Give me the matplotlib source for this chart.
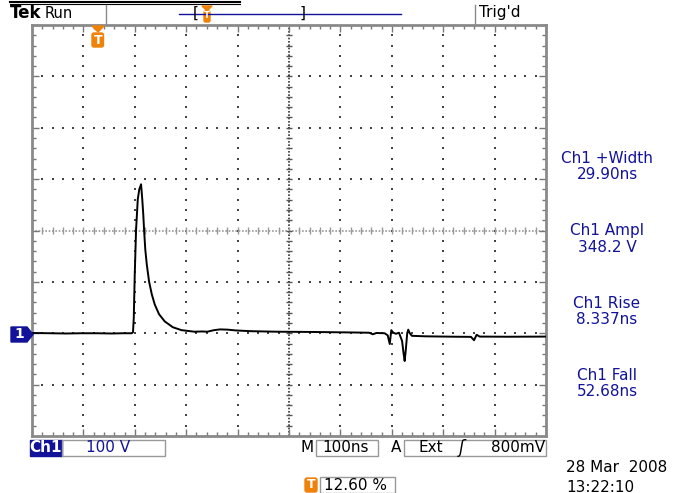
import numpy as np
import matplotlib.pyplot as plt
from matplotlib.patches import Polygon, Rectangle, FancyBboxPatch

# Ch1 trace: time after trigger (ns) and volts
t_ns = [-126, -90, -60, -30, 0, 30, 50, 68, 70.5, 72, 73.9, 76.5, 79.8, 82.7, 86.2,
        88.5, 90.5, 92, 94.4, 97.3, 101.7, 107, 112.8, 121.2, 132.3, 148, 165,
        190, 205, 215, 228, 240, 255, 270, 300, 350, 420, 500, 530, 537, 544,
        560, 566, 570, 573, 577, 582, 588, 594, 597, 599, 601, 604, 606, 609,
        613, 640, 700, 728, 734, 739, 745, 800, 874]
volts = [0.5, 0, -0.5, 0, 0, -0.5, 0, 0, 2, 30, 115, 202, 261, 280, 290,
         261, 231, 202, 163, 134, 101, 76, 56, 37, 23, 11.7, 6,
         3, 3.5, 3, 6, 7.5, 7, 5.5, 4, 3, 2.5, 1.5, 1, -2, 0.5,
         0, -4, -21, 6, 1, -1, 1, -15, -40, -54, -35, 0, 7, 0,
         -5, -6, -6.8, -7, -13.6, -3, -6.5, -6.8, -6.5]

volts_per_div = 100
ns_per_div = 100
trig_pct = 12.60
ground_div = -2.0

meas_names = ['Ch1 +Width', 'Ch1 Ampl', 'Ch1 Rise', 'Ch1 Fall']
meas_values = ['29.90ns', '348.2 V', '8.337ns', '52.68ns']
date_str = '28 Mar  2008'
time_str = '13:22:10'

W, H = 673, 493
navy = '#12129a'
orange = '#f0820a'
gray = '#8a8a8a'

fig = plt.figure(figsize=(W / 100, H / 100), dpi=100)
fig.patch.set_facecolor('white')


def fx(x):
    return x / W


def fy(y):
    return 1 - y / H


def ftext(x, y, s, **kw):
    kw.setdefault('va', 'center')
    kw.setdefault('fontsize', 10.5)
    return fig.text(fx(x), fy(y), s, **kw)


ax = fig.add_axes([fx(32), fy(436), (546 - 32) / W, (436 - 25) / H])
left = -trig_pct / 100 * 10 * ns_per_div
right = left + 10 * ns_per_div
bottom = (-4 - ground_div) * volts_per_div
top = bottom + 8 * volts_per_div
ax.set_xlim(left, right)
ax.set_ylim(bottom, top)

# graticule: dotted division lines
xc = left + 5 * ns_per_div
yc = bottom + 4 * volts_per_div
ys_fine = np.arange(bottom, top + 1, volts_per_div / 5)[1:-1]
xs_fine = np.arange(left, right + 1, ns_per_div / 5)[1:-1]
for k in range(1, 10):
    if k == 5:
        continue
    x = left + k * ns_per_div
    ax.scatter(np.full(len(ys_fine), x), ys_fine, s=0.9, marker='s', color='#444', lw=0, zorder=1)
for k in range(1, 8):
    if k == 4:
        continue
    y = bottom + k * volts_per_div
    ax.scatter(xs_fine, np.full(len(xs_fine), y), s=0.9, marker='s', color='#444', lw=0, zorder=1)

# centre cross with ticks
ax.axhline(yc, color='#999', lw=1.2, ls=(0, (1, 1)), zorder=1)
ax.axvline(xc, color='#333', lw=1.2, ls=(0, (1, 1)), zorder=1)
ax.vlines(xs_fine, yc - 6, yc + 6, color='#999', lw=1, zorder=1)
ax.hlines(ys_fine, xc - 6, xc + 6, color='#555', lw=1, zorder=1)

ax.set_xticks(np.arange(left, right + 1, ns_per_div))
ax.set_yticks(np.arange(bottom, top + 1, volts_per_div))
ax.set_xticks(xs_fine, minor=True)
ax.set_yticks(ys_fine, minor=True)
ax.tick_params(which='both', direction='in', top=True, right=True,
               labelbottom=False, labelleft=False, color='#777', width=1)
ax.tick_params(which='major', length=5)
ax.tick_params(which='minor', length=3)
for sp in ax.spines.values():
    sp.set_color(gray)
    sp.set_linewidth(2)

ax.plot(t_ns, volts, color='black', lw=1.4, zorder=3, solid_joinstyle='round')

# ---- overlay artwork in figure pixels ----
over = fig.add_axes([0, 0, 1, 1], facecolor='none')
over.set_xlim(0, W)
over.set_ylim(H, 0)
over.axis('off')

# cut-off line at very top
over.plot([10, 240], [1.5, 1.5], color='k', lw=1.5)
over.plot([10, 240], [4, 4], color='k', lw=0.8)

# top status bar
ftext(10, 13, 'Tek', fontsize=12, fontweight='bold', family='Liberation Sans Narrow')
ftext(45, 13, 'Run', fontsize=10.5)
over.plot([106, 106], [5, 24], color=gray, lw=1)
over.plot([475, 475], [5, 24], color=gray, lw=1)
ftext(479, 13, "Trig'd", fontsize=11)
over.plot([179, 401], [14, 14], color=navy, lw=1)
ftext(193, 13, '[', fontsize=11)
ftext(300, 13, ']', fontsize=11)
over.add_patch(FancyBboxPatch((204, 11), 6, 11, boxstyle='round,pad=0,rounding_size=1.5', color=orange))
over.add_patch(Polygon([[202, 6], [212, 6], [207, 11]], color=orange))
ftext(207, 16, 'T', fontsize=6, color='white', ha='center', fontweight='bold')

# trigger marker
over.add_patch(Polygon([[92, 26], [104, 26], [98, 32]], color=orange))
over.add_patch(FancyBboxPatch((92, 33), 11.5, 14, boxstyle='round,pad=0,rounding_size=2', color=orange))
ftext(97.8, 40, 'T', fontsize=9, color='white', ha='center', fontweight='bold')

# ground marker for channel 1
over.add_patch(Polygon([[11, 327], [27, 327], [33, 334.5], [27, 342], [11, 342]], color=navy))
ftext(19, 334.5, '1', fontsize=10, color='white', ha='center', fontweight='bold')

# measurement readouts
meas_y = [159, 231, 304, 376]
for name, val, y in zip(meas_names, meas_values, meas_y):
    ftext(607, y, name, color=navy, ha='center', fontsize=11)
    ftext(607, y + 16, val, color=navy, ha='center', fontsize=11)

# bottom status bar
over.add_patch(Rectangle((30, 440), 32, 16, color=navy))
ftext(46, 448, 'Ch1', color='white', ha='center', fontsize=11, fontweight='bold')
over.add_patch(Rectangle((62, 440), 103, 16, fill=False, ec='#999', lw=1))
ftext(86, 448, '100 V', color=navy, fontsize=11)
ftext(301, 448, 'M', fontsize=11)
over.add_patch(Rectangle((316, 440), 62, 16, fill=False, ec='#999', lw=1))
ftext(322, 448, '100ns', fontsize=11)
ftext(391, 448, 'A', fontsize=11)
over.add_patch(Rectangle((404, 440), 142, 16, fill=False, ec='#999', lw=1))
ftext(418, 448, 'Ext', fontsize=11)
ftext(459, 448, '\u0283', fontsize=12, style='italic')
ftext(545, 448, '800mV', fontsize=11, ha='right')

ftext(566, 467, date_str, fontsize=11)
ftext(566, 487, time_str, fontsize=11)

over.add_patch(FancyBboxPatch((305, 478), 12, 14, boxstyle='round,pad=0,rounding_size=2', color=orange))
ftext(311, 485, 'T', fontsize=9, color='white', ha='center', fontweight='bold')
over.add_patch(Rectangle((320, 477), 75, 16, fill=False, ec='#999', lw=1))
ftext(324, 485, '12.60 %', fontsize=11)

fig.savefig('out.png', dpi=100)
